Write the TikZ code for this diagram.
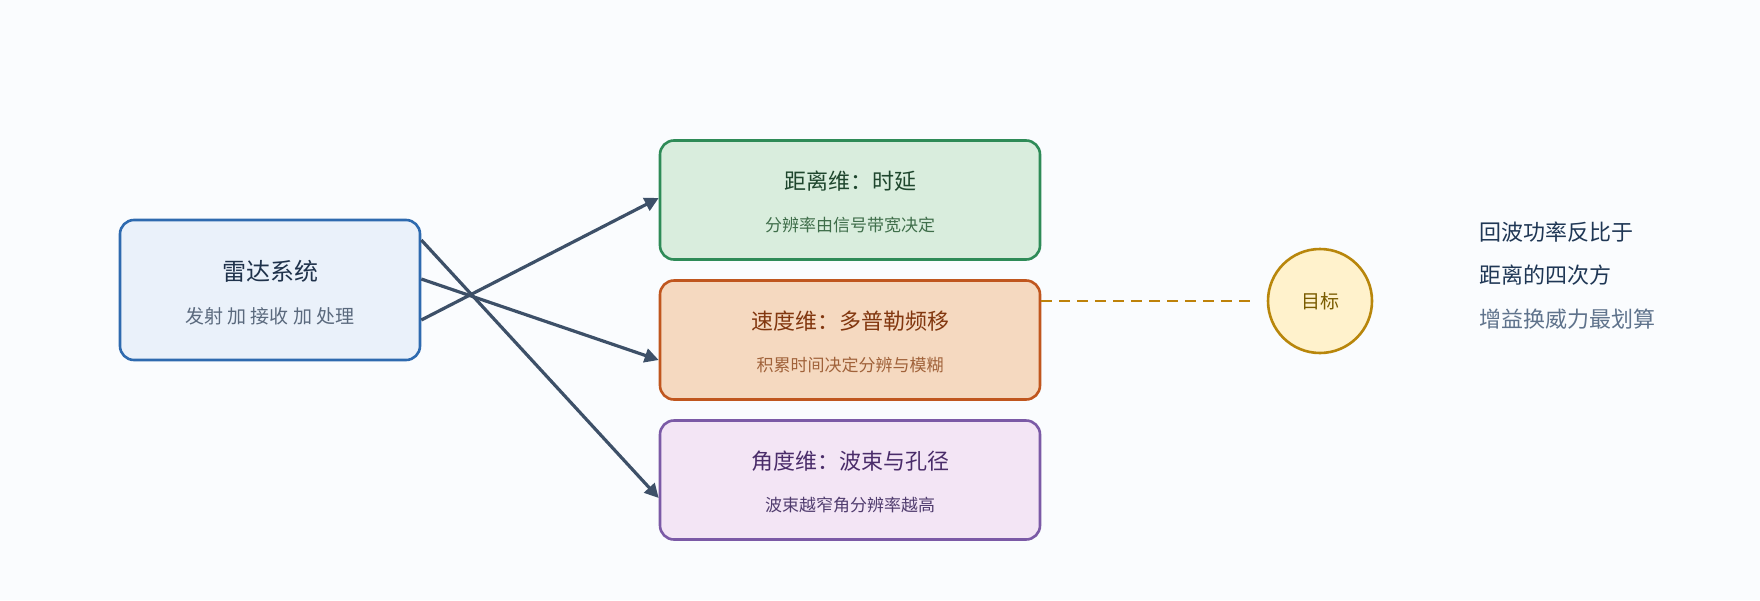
\documentclass[tikz,border=0pt]{standalone}
\usepackage{fontspec}
\setmainfont{Noto Sans CJK SC}
\usetikzlibrary{arrows.meta}
\definecolor{bg}{HTML}{FAFCFE}
\definecolor{rb}{HTML}{2E6AAF}
\definecolor{arrc}{HTML}{3D5068}
\begin{document}
\begin{tikzpicture}[x=1pt,y=-1pt,
 box/.style={draw,line width=2.6pt,rounded corners=14pt,minimum width=#1,align=center,inner sep=0pt},
 arr/.style={draw=arrc,line width=3.2pt,-{Triangle[length=14pt,width=14pt]}},
 t/.style={font=\fontsize{22}{26}\selectfont},
 s/.style={font=\fontsize{17}{20}\selectfont}]
\fill[bg] (0,0) rectangle (1760,600);
\useasboundingbox (0,0) rectangle (1760,600);
\node[box=300pt,minimum height=140pt,draw=rb,fill={rgb,255:red,234;green,241;blue,250}] (radar) at (270,290) {};
\node[font=\fontsize{24}{28}\selectfont,text={rgb,255:red,31;green,50;blue,75}] (rt) at (270,271) {雷达系统};
\node[font=\fontsize{19}{22}\selectfont,text={rgb,255:red,90;green,105;blue,125}] (rs) at (270,316) {发射 加 接收 加 处理};
\node[box=380pt,minimum height=119pt,draw={rgb,255:red,46;green,139;blue,87},fill={rgb,255:red,217;green,237;blue,221}] (rng) at (850,200) {};
\node[t,text={rgb,255:red,30;green,70;blue,45}] (rngt) at (850,181) {距离维：时延};
\node[s,text={rgb,255:red,63;green,110;blue,74}] (rngs) at (850,225) {分辨率由信号带宽决定};
\node[box=380pt,minimum height=119pt,draw={rgb,255:red,192;green,86;blue,30},fill={rgb,255:red,245;green,217;blue,192}] (vel) at (850,340) {};
\node[t,text={rgb,255:red,130;green,55;blue,15}] (velt) at (850,321) {速度维：多普勒频移};
\node[s,text={rgb,255:red,160;green,98;blue,58}] (vels) at (850,365) {积累时间决定分辨与模糊};
\node[box=380pt,minimum height=119pt,draw={rgb,255:red,123;green,90;blue,166},fill={rgb,255:red,243;green,229;blue,245}] (ang) at (850,480) {};
\node[t,text={rgb,255:red,74;green,44;blue,106}] (angt) at (850,461) {角度维：波束与孔径};
\node[s,text={rgb,255:red,80;green,60;blue,110}] (angs) at (850,505) {波束越窄角分辨率越高};
\node[circle,draw={rgb,255:red,184;green,134;blue,11},line width=2.6pt,fill={rgb,255:red,255;green,242;blue,204},minimum size=104pt,inner sep=0pt,font=\fontsize{19}{22}\selectfont,text={rgb,255:red,122;green,92;blue,0}] (tgt) at (1320,301) {目标};
\coordinate (vr) at (1041,301);
\draw[draw={rgb,255:red,190;green,130;blue,10},line width=2.6pt,dash pattern=on 11pt off 7pt] (vr) -- ([xshift=-14pt]tgt.west);
\node[anchor=west,font=\fontsize{22}{26}\selectfont,text={rgb,255:red,31;green,55;blue,85}] (n1) at (1476,232) {回波功率反比于};
\node[anchor=west,font=\fontsize{22}{26}\selectfont,text={rgb,255:red,31;green,55;blue,85}] (n2) at (1476,275) {距离的四次方};
\node[anchor=west,font=\fontsize{22}{26}\selectfont,text={rgb,255:red,95;green,115;blue,140}] (n3) at (1476,319) {增益换威力最划算};
\draw[arr] ([yshift=-30pt]radar.east) -- ([yshift=2pt]rng.west);
\draw[arr] ([yshift=11pt]radar.east) -- ([yshift=-20pt]vel.west);
\draw[arr] ([yshift=50pt]radar.east) -- ([yshift=-18pt]ang.west);
\end{tikzpicture}
\end{document}
